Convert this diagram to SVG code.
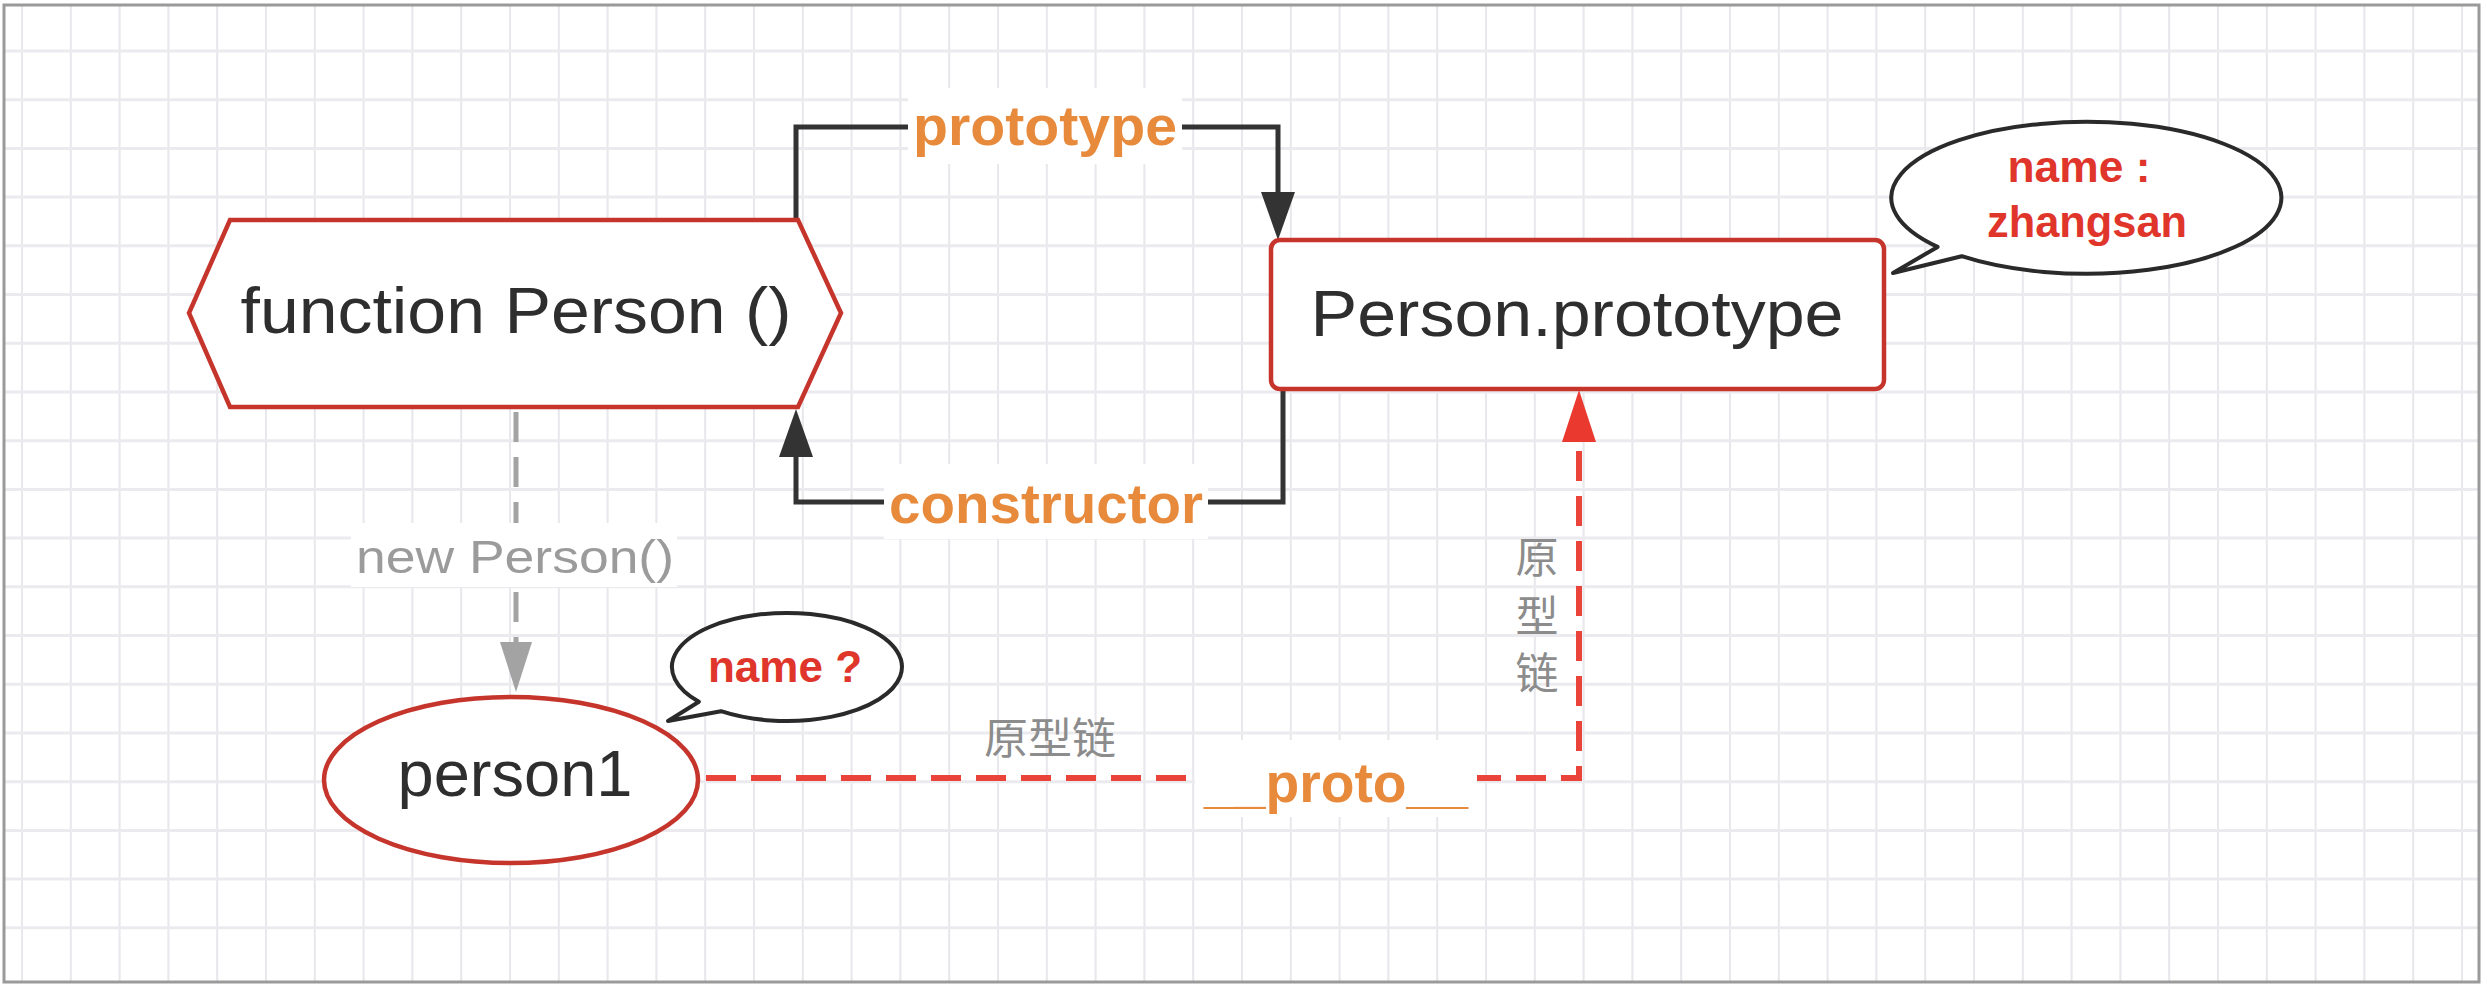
<svg xmlns="http://www.w3.org/2000/svg" width="2482" height="988" viewBox="0 0 2482 988">
  <defs>
    <style>
      .gv { stroke: #e7e7ec; stroke-width: 2; }
      .gh { stroke: #ebebef; stroke-width: 3; }
      .node { fill: #ffffff; stroke: #c5352c; stroke-width: 4.5; }
      .bubble { fill: #ffffff; stroke: #2a2a2a; stroke-width: 4; stroke-linejoin: round; }
      .main { font-family: "Liberation Sans", Arial, sans-serif; font-size: 64px; fill: #2e2e2e; text-anchor: middle; }
      .lbl { font-family: "Liberation Sans", Arial, sans-serif; font-size: 56px; font-weight: bold; fill: #e88a3c; text-anchor: middle; }
      .note { font-family: "Liberation Sans", Arial, sans-serif; font-size: 44px; font-weight: bold; fill: #e0352b; text-anchor: middle; }
      .gray { font-family: "Liberation Sans", Arial, sans-serif; font-size: 46px; fill: #9b9b9b; text-anchor: middle; }
      .cjk { font-family: "Liberation Sans", "Noto Sans CJK SC", sans-serif; font-size: 43px; fill: #8c8c8c; text-anchor: middle; }
      .blk { fill: none; stroke: #333333; stroke-width: 5; }
      .gdash { fill: none; stroke: #a3a3a3; stroke-width: 5; stroke-dasharray: 30 15; }
      .rdash { fill: none; stroke: #ea4339; stroke-width: 6; stroke-dasharray: 30 15; }
      .lblbg { fill: #ffffff; }
    </style>
    <marker id="ahBlack" markerUnits="userSpaceOnUse" viewBox="0 0 48 34" markerWidth="48" markerHeight="34" refX="0" refY="17" orient="auto">
      <path d="M0,0 L48,17 L0,34 Z" fill="#333333"/>
    </marker>
    <marker id="ahGray" markerUnits="userSpaceOnUse" viewBox="0 0 50 32" markerWidth="50" markerHeight="32" refX="0" refY="16" orient="auto">
      <path d="M0,0 L50,16 L0,32 Z" fill="#a3a3a3"/>
    </marker>
    <marker id="ahRed" markerUnits="userSpaceOnUse" viewBox="0 0 52 34" markerWidth="52" markerHeight="34" refX="0" refY="17" orient="auto">
      <path d="M0,0 L52,17 L0,34 Z" fill="#ea3a30"/>
    </marker>
  </defs>

  <rect x="0" y="0" width="2482" height="988" fill="#ffffff"/>

  <g id="grid">
    <g class="gv">
      <line x1="22" y1="5" x2="22" y2="982"/><line x1="70.8" y1="5" x2="70.8" y2="982"/><line x1="119.6" y1="5" x2="119.6" y2="982"/><line x1="168.4" y1="5" x2="168.4" y2="982"/><line x1="217.2" y1="5" x2="217.2" y2="982"/><line x1="266" y1="5" x2="266" y2="982"/><line x1="314.8" y1="5" x2="314.8" y2="982"/><line x1="363.6" y1="5" x2="363.6" y2="982"/><line x1="412.4" y1="5" x2="412.4" y2="982"/><line x1="461.2" y1="5" x2="461.2" y2="982"/>
      <line x1="510" y1="5" x2="510" y2="982"/><line x1="558.8" y1="5" x2="558.8" y2="982"/><line x1="607.6" y1="5" x2="607.6" y2="982"/><line x1="656.4" y1="5" x2="656.4" y2="982"/><line x1="705.2" y1="5" x2="705.2" y2="982"/><line x1="754" y1="5" x2="754" y2="982"/><line x1="802.8" y1="5" x2="802.8" y2="982"/><line x1="851.6" y1="5" x2="851.6" y2="982"/><line x1="900.4" y1="5" x2="900.4" y2="982"/><line x1="949.2" y1="5" x2="949.2" y2="982"/>
      <line x1="998" y1="5" x2="998" y2="982"/><line x1="1046.8" y1="5" x2="1046.8" y2="982"/><line x1="1095.6" y1="5" x2="1095.6" y2="982"/><line x1="1144.4" y1="5" x2="1144.4" y2="982"/><line x1="1193.2" y1="5" x2="1193.2" y2="982"/><line x1="1242" y1="5" x2="1242" y2="982"/><line x1="1290.8" y1="5" x2="1290.8" y2="982"/><line x1="1339.6" y1="5" x2="1339.6" y2="982"/><line x1="1388.4" y1="5" x2="1388.4" y2="982"/><line x1="1437.2" y1="5" x2="1437.2" y2="982"/>
      <line x1="1486" y1="5" x2="1486" y2="982"/><line x1="1534.8" y1="5" x2="1534.8" y2="982"/><line x1="1583.6" y1="5" x2="1583.6" y2="982"/><line x1="1632.4" y1="5" x2="1632.4" y2="982"/><line x1="1681.2" y1="5" x2="1681.2" y2="982"/><line x1="1730" y1="5" x2="1730" y2="982"/><line x1="1778.8" y1="5" x2="1778.8" y2="982"/><line x1="1827.6" y1="5" x2="1827.6" y2="982"/><line x1="1876.4" y1="5" x2="1876.4" y2="982"/><line x1="1925.2" y1="5" x2="1925.2" y2="982"/>
      <line x1="1974" y1="5" x2="1974" y2="982"/><line x1="2022.8" y1="5" x2="2022.8" y2="982"/><line x1="2071.6" y1="5" x2="2071.6" y2="982"/><line x1="2120.4" y1="5" x2="2120.4" y2="982"/><line x1="2169.2" y1="5" x2="2169.2" y2="982"/><line x1="2218" y1="5" x2="2218" y2="982"/><line x1="2266.8" y1="5" x2="2266.8" y2="982"/><line x1="2315.6" y1="5" x2="2315.6" y2="982"/><line x1="2364.4" y1="5" x2="2364.4" y2="982"/><line x1="2413.2" y1="5" x2="2413.2" y2="982"/><line x1="2462" y1="5" x2="2462" y2="982"/>
    </g>
    <g class="gh">
      <line x1="5" y1="51" x2="2479" y2="51"/><line x1="5" y1="99.7" x2="2479" y2="99.7"/><line x1="5" y1="148.4" x2="2479" y2="148.4"/><line x1="5" y1="197.1" x2="2479" y2="197.1"/><line x1="5" y1="245.8" x2="2479" y2="245.8"/><line x1="5" y1="294.6" x2="2479" y2="294.6"/><line x1="5" y1="343.3" x2="2479" y2="343.3"/><line x1="5" y1="392" x2="2479" y2="392"/><line x1="5" y1="440.7" x2="2479" y2="440.7"/><line x1="5" y1="489.4" x2="2479" y2="489.4"/>
      <line x1="5" y1="538.1" x2="2479" y2="538.1"/><line x1="5" y1="586.8" x2="2479" y2="586.8"/><line x1="5" y1="635.5" x2="2479" y2="635.5"/><line x1="5" y1="684.2" x2="2479" y2="684.2"/><line x1="5" y1="732.9" x2="2479" y2="732.9"/><line x1="5" y1="781.7" x2="2479" y2="781.7"/><line x1="5" y1="830.4" x2="2479" y2="830.4"/><line x1="5" y1="879.1" x2="2479" y2="879.1"/><line x1="5" y1="927.8" x2="2479" y2="927.8"/>
    </g>
  </g>

  <rect x="4" y="5" width="2475" height="977" fill="none" stroke="#9a9a9a" stroke-width="3"/>

  <g id="connectors">
    <!-- prototype: function Person -> Person.prototype -->
    <path class="blk" d="M796,220 V127 H1278 V192" marker-end="url(#ahBlack)"/>
    <!-- constructor: Person.prototype -> function Person -->
    <path class="blk" d="M1283,389 V502 H796 V457" marker-end="url(#ahBlack)"/>
    <!-- new Person() -->
    <path class="gdash" d="M516,412 V642" marker-end="url(#ahGray)"/>
    <!-- __proto__ -->
    <path class="rdash" d="M706,778 H1579 V442" marker-end="url(#ahRed)"/>

    <g id="label-prototype">
      <rect class="lblbg" x="908" y="88" width="274" height="76"/>
      <text class="lbl" x="1045" y="145" textLength="264" lengthAdjust="spacingAndGlyphs">prototype</text>
    </g>
    <g id="label-constructor">
      <rect class="lblbg" x="884" y="464" width="324" height="75"/>
      <text class="lbl" x="1046" y="523" textLength="314" lengthAdjust="spacingAndGlyphs">constructor</text>
    </g>
    <g id="label-new">
      <rect class="lblbg" x="351" y="523" width="326" height="64"/>
      <text class="gray" x="515" y="573" textLength="318" lengthAdjust="spacingAndGlyphs">new Person()</text>
    </g>
    <g id="label-proto">
      <rect class="lblbg" x="1195" y="740" width="282" height="77"/>
      <text class="lbl" x="1336" y="802" textLength="264" lengthAdjust="spacingAndGlyphs">__proto__</text>
    </g>
    <text id="label-chain-h" class="cjk" x="1050" y="754" textLength="132" lengthAdjust="spacingAndGlyphs">原型链</text>
    <g id="label-chain-v" class="cjk">
      <text x="1537" y="573">原</text>
      <text x="1537" y="632">型</text>
      <text x="1537" y="689">链</text>
    </g>
  </g>

  <g id="node-function-person">
    <polygon class="node" points="230,220 798,220 841,313 798,407 230,407 189,313"/>
    <text class="main" x="516" y="333" textLength="551" lengthAdjust="spacingAndGlyphs">function Person ()</text>
  </g>

  <g id="node-person-prototype">
    <rect class="node" x="1271" y="240" width="613" height="149" rx="9" ry="9"/>
    <text class="main" x="1577" y="336" textLength="533" lengthAdjust="spacingAndGlyphs">Person.prototype</text>
  </g>

  <g id="node-person1">
    <ellipse class="node" cx="511" cy="780" rx="187" ry="83"/>
    <text class="main" x="515" y="796" textLength="235" lengthAdjust="spacingAndGlyphs">person1</text>
  </g>

  <g id="bubble-zhangsan">
    <path class="bubble" d="M1937.6,246.9 A195,76 0 1 1 1961.7,256.2 L1893,273 Z"/>
    <text class="note" x="2079" y="182" textLength="143" lengthAdjust="spacingAndGlyphs">name :</text>
    <text class="note" x="2087" y="237" textLength="200" lengthAdjust="spacingAndGlyphs">zhangsan</text>
  </g>

  <g id="bubble-name">
    <path class="bubble" d="M698.9,701.7 A115,54 0 1 1 721,711.2 L668,721 Z"/>
    <text class="note" x="785" y="682" textLength="154" lengthAdjust="spacingAndGlyphs">name ?</text>
  </g>
</svg>
